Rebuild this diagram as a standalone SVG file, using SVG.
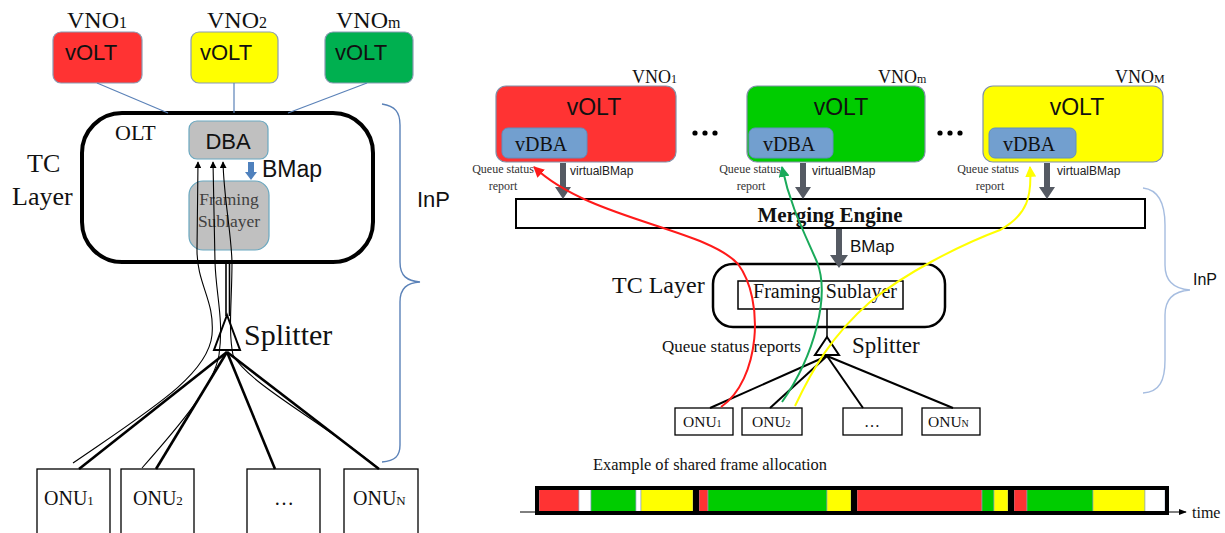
<svg xmlns="http://www.w3.org/2000/svg" width="1225" height="533" viewBox="0 0 1225 533">
<style>
.serif{font-family:"Liberation Serif","Times New Roman",serif;fill:#111}
.sans{font-family:"Liberation Sans",Arial,sans-serif;fill:#111}
.volt{fill:none}
.thin{fill:none;stroke:#000;stroke-width:1.1}
.thick{fill:none;stroke:#000;stroke-width:2.6}
.rthick{fill:none;stroke:#000;stroke-width:2}
.brace{fill:none;stroke:#5b82b8;stroke-width:1.4}
.gray{fill:#c0c0c0;stroke:#6aa8c0;stroke-width:1.2}
.vdba{fill:#729fcf;stroke:#5f8fc0;stroke-width:1}
.box{fill:#fff;stroke:#000;stroke-width:1.3}
.garrow{fill:#555a63}
</style>
<defs>
<marker id="ak" viewBox="0 0 10 10" refX="9" refY="5" markerWidth="7" markerHeight="7" markerUnits="userSpaceOnUse" orient="auto"><path d="M0,0 L10,5 L0,10 z" fill="#000"/></marker>
<marker id="ar" viewBox="0 0 10 10" refX="9" refY="5" markerWidth="11" markerHeight="11" markerUnits="userSpaceOnUse" orient="auto"><path d="M0,0 L10,5 L0,10 z" fill="#ff1a1a"/></marker>
<marker id="ag" viewBox="0 0 10 10" refX="9" refY="5" markerWidth="11" markerHeight="11" markerUnits="userSpaceOnUse" orient="auto"><path d="M0,0 L10,5 L0,10 z" fill="#1aaa5a"/></marker>
<marker id="ay" viewBox="0 0 10 10" refX="9" refY="5" markerWidth="11" markerHeight="11" markerUnits="userSpaceOnUse" orient="auto"><path d="M0,0 L10,5 L0,10 z" fill="#ffff00"/></marker>
<marker id="at" viewBox="0 0 10 10" refX="9" refY="5" markerWidth="8" markerHeight="8" markerUnits="userSpaceOnUse" orient="auto"><path d="M0,1 L10,5 L0,9 z" fill="#000"/></marker>
</defs>

<!-- ===== LEFT DIAGRAM ===== -->
<g id="L-vno1">
<text class="serif" x="67" y="28" font-size="24">VNO<tspan font-size="16">1</tspan></text>
<rect x="53" y="32" width="89" height="51" rx="8" fill="#ff3333" stroke="#8a9bb3" stroke-width="1.2"/>
<text class="sans" x="65" y="60" font-size="22">vOLT</text>
</g>
<g id="L-vno2">
<text class="serif" x="207" y="28" font-size="24">VNO<tspan font-size="16">2</tspan></text>
<rect x="191" y="32" width="87" height="51" rx="8" fill="#ffff00" stroke="#8a9bb3" stroke-width="1.2"/>
<text class="sans" x="200" y="60" font-size="22">vOLT</text>
</g>
<g id="L-vnom">
<text class="serif" x="336" y="28" font-size="24">VNO<tspan font-size="16">m</tspan></text>
<rect x="325" y="32" width="88" height="51" rx="8" fill="#00b050" stroke="#8a9bb3" stroke-width="1.2"/>
<text class="sans" x="335" y="60" font-size="22">vOLT</text>
</g>
<g id="L-olt">
<rect x="82" y="113" width="291" height="149" rx="40" fill="none" stroke="#000" stroke-width="4"/>
<text class="serif" x="115" y="140" font-size="22">OLT</text>
</g>
<g id="L-dba">
<rect class="gray" x="189" y="121" width="79" height="38" rx="8"/>
<text class="sans" x="228" y="149" font-size="22" text-anchor="middle">DBA</text>
</g>
<g id="L-framing">
<rect class="gray" x="189" y="181" width="80" height="69" rx="14"/>
<text class="serif" x="229" y="205" font-size="17.5" text-anchor="middle" fill="#404040" style="fill:#404040">Framing</text>
<text class="serif" x="229" y="227" font-size="17.5" text-anchor="middle" style="fill:#404040">Sublayer</text>
</g>
<g id="L-bmap">
<polygon points="248,162 254,162 254,172 257,172 251,180 245,172 248,172" fill="#4f81bd"/>
<text class="sans" x="262" y="177" font-size="23">BMap</text>
</g>
<g id="L-tclayer">
<text class="serif" x="27" y="172" font-size="26">TC</text>
<text class="serif" x="12" y="205" font-size="26">Layer</text>
</g>
<g id="L-inp">
<path class="brace" d="M382 104 C395 106 400 112 400 125 L400 262 C400 276 407 281 420 282 C407 283 400 288 400 302 L400 445 C400 456 395 461 382 462"/>
<text class="sans" x="417" y="207" font-size="22">InP</text>
</g>
<g id="L-splitter">
<polygon points="227,315 240,350 214,350" fill="#fff" stroke="#000" stroke-width="2"/>
<text class="serif" x="244" y="345" font-size="30">Splitter</text>
</g>
<g id="L-onu1">
<rect class="box" x="37" y="469" width="73" height="70"/>
<text class="serif" x="44" y="505" font-size="20">ONU<tspan font-size="13">1</tspan></text>
</g>
<g id="L-onu2">
<rect class="box" x="121" y="469" width="73" height="70"/>
<text class="serif" x="133" y="505" font-size="20">ONU<tspan font-size="13">2</tspan></text>
</g>
<g id="L-onudots">
<rect class="box" x="247" y="469" width="73" height="70"/>
<text class="serif" x="284" y="505" font-size="20" text-anchor="middle">…</text>
</g>
<g id="L-onuN">
<rect class="box" x="344" y="469" width="74" height="70"/>
<text class="serif" x="353" y="505" font-size="20">ONU<tspan font-size="13">N</tspan></text>
</g>
<g id="L-connectors">
<line x1="97" y1="83" x2="168" y2="113" stroke="#5b82b8" stroke-width="1.2"/>
<line x1="234" y1="83" x2="234" y2="113" stroke="#5b82b8" stroke-width="1.2"/>
<line x1="367" y1="83" x2="288" y2="113" stroke="#5b82b8" stroke-width="1.2"/>
<line x1="226" y1="262" x2="226" y2="316" stroke="#000" stroke-width="1.6"/>
<line x1="229.5" y1="262" x2="229.5" y2="316" stroke="#000" stroke-width="1.6"/>
<line class="thick" x1="227" y1="352" x2="79" y2="469"/>
<line class="thick" x1="227" y1="352" x2="156" y2="469"/>
<line class="thick" x1="227" y1="352" x2="275" y2="469"/>
<line class="thick" x1="227" y1="352" x2="379" y2="469"/>
<path class="thin" marker-end="url(#ak)" d="M73 463 C150 410 208 375 212 335 C215 300 197 285 197 250 L198 162"/>
<path class="thin" marker-end="url(#ak)" d="M142 468 C180 425 214 385 219 355 C224 320 216 295 215 262 L213 162"/>
<path class="thin" marker-end="url(#ak)" d="M378 468 C320 420 250 385 233 355 C228 330 232 300 232 262 C231 230 224 200 223 162"/>
</g>

<!-- ===== RIGHT DIAGRAM ===== -->
<g id="R-vno1">
<text class="serif" x="632" y="83" font-size="18">VNO<tspan font-size="12">1</tspan></text>
<rect x="496" y="86" width="180" height="76" rx="10" fill="#ff3333" stroke="#8090a8" stroke-width="1.2"/>
<text class="sans" x="594" y="115" font-size="23" text-anchor="middle">vOLT</text>
<rect class="vdba" x="502" y="128" width="85" height="30" rx="6"/>
<text class="serif" x="515" y="151" font-size="20">vDBA</text>
</g>
<g id="R-vnom">
<text class="serif" x="878" y="83" font-size="18">VNO<tspan font-size="12">m</tspan></text>
<rect x="747" y="86" width="178" height="76" rx="10" fill="#00cc00" stroke="#8090a8" stroke-width="1.2"/>
<text class="sans" x="841" y="115" font-size="23" text-anchor="middle">vOLT</text>
<rect class="vdba" x="749" y="128" width="84" height="30" rx="6"/>
<text class="serif" x="763" y="151" font-size="20">vDBA</text>
</g>
<g id="R-vnoM">
<text class="serif" x="1115" y="83" font-size="18">VNO<tspan font-size="12">M</tspan></text>
<rect x="983" y="86" width="180" height="76" rx="10" fill="#ffff00" stroke="#8090a8" stroke-width="1.2"/>
<text class="sans" x="1077" y="115" font-size="23" text-anchor="middle">vOLT</text>
<rect class="vdba" x="989" y="128" width="87" height="30" rx="6"/>
<text class="serif" x="1003" y="151" font-size="20">vDBA</text>
</g>
<g id="R-dots">
<circle cx="695" cy="133" r="2.6" fill="#000"/><circle cx="705" cy="133" r="2.6" fill="#000"/><circle cx="715" cy="133" r="2.6" fill="#000"/>
<circle cx="940" cy="133" r="2.6" fill="#000"/><circle cx="950" cy="133" r="2.6" fill="#000"/><circle cx="960" cy="133" r="2.6" fill="#000"/>
</g>
<g id="R-labels">
<text class="serif" x="503" y="173" font-size="12" text-anchor="middle" style="fill:#333">Queue status</text>
<text class="serif" x="503" y="190" font-size="12" text-anchor="middle" style="fill:#333">report</text>
<text class="serif" x="750" y="173" font-size="12" text-anchor="middle" style="fill:#333">Queue status</text>
<text class="serif" x="751" y="190" font-size="12" text-anchor="middle" style="fill:#333">report</text>
<text class="serif" x="988" y="173" font-size="12" text-anchor="middle" style="fill:#333">Queue status</text>
<text class="serif" x="990" y="190" font-size="12" text-anchor="middle" style="fill:#333">report</text>
<text class="sans" x="570" y="175" font-size="12" style="fill:#222">virtualBMap</text>
<text class="sans" x="812" y="175" font-size="12" style="fill:#222">virtualBMap</text>
<text class="sans" x="1057" y="175" font-size="12" style="fill:#222">virtualBMap</text>
</g>
<g id="R-merging">
<rect x="516" y="199" width="629" height="29" fill="#fff" stroke="#000" stroke-width="2"/>
<text class="serif" x="830" y="222" font-size="21" font-weight="bold" text-anchor="middle">Merging Engine</text>
</g>
<g id="R-tclayer">
<rect x="713" y="264" width="232" height="63" rx="20" fill="none" stroke="#000" stroke-width="2.5"/>
<text class="serif" x="612" y="293" font-size="24">TC Layer</text>
</g>
<g id="R-framing">
<rect x="738" y="281" width="165" height="28" fill="#fff" stroke="#000" stroke-width="1.5"/>
<text class="serif" x="825" y="298" font-size="20" text-anchor="middle">Framing Sublayer</text>
</g>
<g id="R-splitter">
<polygon points="827,337 839,355 815,355" fill="#fff" stroke="#000" stroke-width="2"/>
<text class="serif" x="852" y="353" font-size="23">Splitter</text>
<text class="serif" x="662" y="352" font-size="17">Queue status reports</text>
</g>
<g id="R-onu1">
<rect class="box" x="675" y="408" width="58" height="27"/>
<text class="serif" x="683" y="427" font-size="15.5">ONU<tspan font-size="10">1</tspan></text>
</g>
<g id="R-onu2">
<rect class="box" x="742" y="408" width="60" height="27"/>
<text class="serif" x="752" y="427" font-size="15.5">ONU<tspan font-size="10">2</tspan></text>
</g>
<g id="R-onudots">
<rect class="box" x="843" y="408" width="59" height="27"/>
<text class="serif" x="872" y="427" font-size="16" text-anchor="middle">…</text>
</g>
<g id="R-onuN">
<rect class="box" x="922" y="408" width="58" height="27"/>
<text class="serif" x="928" y="427" font-size="15.5">ONU<tspan font-size="10">N</tspan></text>
</g>
<g id="R-inp">
<path class="brace" style="stroke:#a6bde0" d="M1143 188 C1160 190 1165 205 1165 225 L1165 265 C1165 282 1175 289 1190 290 C1175 291 1165 298 1165 315 L1165 360 C1165 380 1160 392 1143 393"/>
<text class="sans" x="1193" y="285" font-size="16">InP</text>
</g>
<g id="R-connectors">
<polygon class="garrow" points="560,163 566,163 566,187 571,187 563,199 555,187 560,187"/>
<polygon class="garrow" points="800,163 806,163 806,187 811,187 803,199 795,187 800,187"/>
<polygon class="garrow" points="1044,163 1050,163 1050,187 1055,187 1047,199 1039,187 1044,187"/>
<polygon class="garrow" points="836,229 842,229 842,255 848,255 839,268 830,255 836,255"/>
<text class="sans" x="850" y="252" font-size="17">BMap</text>
<line class="rthick" x1="827" y1="309" x2="827" y2="337" style="stroke-width:1.5"/>
<line class="rthick" x1="827" y1="356" x2="710" y2="408"/>
<line class="rthick" x1="827" y1="356" x2="770" y2="408"/>
<line class="rthick" x1="827" y1="356" x2="863" y2="408"/>
<line class="rthick" x1="827" y1="356" x2="953" y2="408"/>
<path fill="none" stroke="#ff1a1a" stroke-width="2" marker-end="url(#ar)" d="M721 407 C760 380 765 300 738 264 C705 228 590 220 534 167"/>
<path fill="none" stroke="#1aaa5a" stroke-width="2" marker-end="url(#ag)" d="M782 402 C815 355 830 295 817 262 C803 230 790 205 782 167"/>
<path fill="none" stroke="#ffff00" stroke-width="2" marker-end="url(#ay)" d="M795 406 C812 370 832 335 870 302 C905 273 960 245 1000 230 C1028 215 1032 195 1030 167"/>
</g>

<!-- ===== FRAME ALLOCATION ===== -->
<g id="frame-allocation">
<text class="serif" x="593" y="470" font-size="17" textLength="234" lengthAdjust="spacingAndGlyphs">Example of shared frame allocation</text>
<line x1="520" y1="512" x2="1186" y2="512" stroke="#000" stroke-width="1" marker-end="url(#at)"/>
<g stroke="#8aa0c0" stroke-width="0.6">
<rect x="539" y="489" width="40" height="23" fill="#ff3333"/>
<rect x="579" y="489" width="12" height="23" fill="#fff"/>
<rect x="591" y="489" width="45" height="23" fill="#00cc00"/>
<rect x="636" y="489" width="5" height="23" fill="#fff"/>
<rect x="641" y="489" width="52" height="23" fill="#ffff00"/>
<rect x="699" y="489" width="9" height="23" fill="#ff3333"/>
<rect x="708" y="489" width="119" height="23" fill="#00cc00"/>
<rect x="827" y="489" width="24" height="23" fill="#ffff00"/>
<rect x="857" y="489" width="125" height="23" fill="#ff3333"/>
<rect x="982" y="489" width="12" height="23" fill="#00cc00"/>
<rect x="994" y="489" width="14" height="23" fill="#ffff00"/>
<rect x="1014" y="489" width="13" height="23" fill="#ff3333"/>
<rect x="1027" y="489" width="66" height="23" fill="#00cc00"/>
<rect x="1093" y="489" width="52" height="23" fill="#ffff00"/>
<rect x="1145" y="489" width="20" height="23" fill="#fff"/>
</g>
<g fill="none" stroke="#000" stroke-width="4">
<rect x="537" y="488" width="158" height="25"/>
<rect x="697" y="488" width="156" height="25"/>
<rect x="855" y="488" width="155" height="25"/>
<rect x="1012" y="488" width="155" height="25"/>
</g>
<text class="serif" x="1192" y="518" font-size="16">time</text>
</g>
</svg>
